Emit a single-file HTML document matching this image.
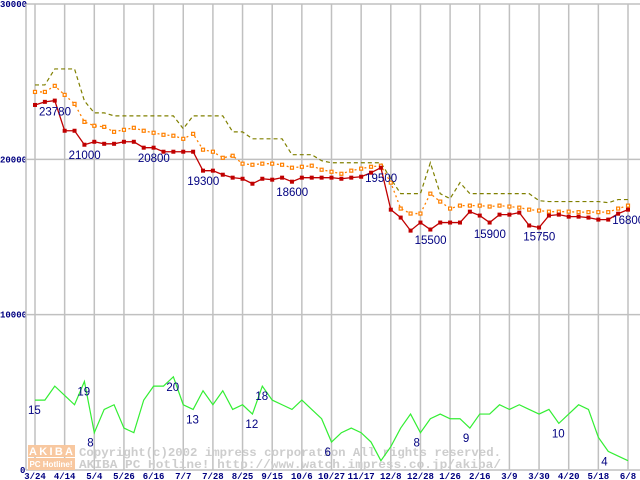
<!DOCTYPE html>
<html><head><meta charset="utf-8"><style>
body{margin:0;background:#fff;}
svg{display:block;font-family:"Liberation Mono",monospace;}
</style></head><body>
<svg id="c" width="640" height="480" xmlns="http://www.w3.org/2000/svg">
<g id="wm">
<rect x="28" y="445" width="47" height="12" fill="#f8c8a0"/>
<rect x="28" y="458" width="47" height="12" fill="#f8c8a0"/>
<text x="51" y="455" font-size="11" fill="#fff" text-anchor="middle" font-weight="bold" font-family="Liberation Sans,sans-serif" textLength="44">AKIBA</text>
<text x="51" y="467" font-size="8" fill="#fff" text-anchor="middle" font-weight="bold" font-family="Liberation Sans,sans-serif">PC Hotline!</text>
<text x="79" y="456" font-size="12" fill="#cdcdcd" font-weight="bold" textLength="422" lengthAdjust="spacingAndGlyphs">Copyright(c)2002 impress corporation All rights reserved.</text>
<text x="79" y="468" font-size="12" fill="#cdcdcd" font-weight="bold" textLength="422" lengthAdjust="spacingAndGlyphs">AKIBA PC Hotline!  http://www.watch.impress.co.jp/akiba/</text>
</g>
</svg>
<script>
const xLabels=["3/24","4/14","5/4","5/26","6/16","7/7","7/28","8/25","9/15","10/6","10/27","11/17","12/8","12/28","1/26","2/16","3/9","3/30","4/20","5/18","6/8"];
const yTicks=[0,10000,20000,30000];
const minPrice=[23500,23700,23780,21840,21840,20940,21130,21000,21000,21130,21130,20750,20750,20490,20490,20490,20490,19270,19270,19010,18820,18750,18430,18750,18690,18820,18560,18820,18820,18820,18820,18750,18820,18880,19140,19460,16760,16250,15410,15930,15480,15930,15930,15930,16630,16380,15930,16440,16440,16570,15740,15610,16380,16440,16310,16310,16250,16120,16120,16500,16760];
const avgPrice=[24340,24340,24730,24150,23570,22410,22160,22090,21770,21900,22030,21840,21710,21580,21520,21320,21640,20620,20490,20100,20230,19720,19650,19720,19720,19650,19460,19520,19590,19330,19200,19070,19270,19400,19520,19590,18500,16830,16510,16510,17790,17280,16830,17020,17020,17020,16960,17020,16960,16890,16760,16700,16630,16630,16630,16600,16600,16600,16600,16830,17020];
const maxPrice=[24790,24790,25820,25820,25820,23760,22990,22990,22800,22800,22800,22800,22800,22800,22800,21970,22800,22800,22800,22800,21770,21770,21320,21320,21320,21320,20300,20300,20300,19910,19780,19780,19780,19780,19780,19780,18750,17790,17790,17790,19780,17790,17470,18500,17790,17790,17790,17790,17790,17790,17790,17340,17280,17280,17280,17280,17280,17280,17210,17410,17410];
const counts=[15,15,18,16,14,19,8,13,14,9,8,15,18,18,20,14,13,17,14,17,13,14,12,18,15,14,13,15,13,11,6,8,9,8,6,2,5,9,12,8,11,12,11,11,9,12,12,14,13,14,13,12,13,10,12,14,13,7,4,3,2];
const priceLabels=[[0,"23780"],[3,"21000"],[10,"20800"],[15,"19300"],[24,"18600"],[33,"19500"],[38,"15500"],[44,"15900"],[49,"15750"],[58,"16800"]];
const countLabels=[[0,"15"],[5,"19"],[6,"8"],[14,"20"],[16,"13"],[22,"12"],[23,"18"],[30,"6"],[39,"8"],[44,"9"],[53,"10"],[58,"4"]];
const NS="http://www.w3.org/2000/svg";
const svg=document.getElementById('c');
const X0=35,X1=628,PL=26,Y0=470,Y1=4;
const n=minPrice.length;
function xs(i){return X0+(X1-X0)*i/(n-1);}
function yp(v){return Y0-(Y0-Y1)*v/30000;}
function yc(v){return Y0-(Y0-Y1)*v/100;}
function mk(t,a){const e=document.createElementNS(NS,t);for(const k in a)e.setAttribute(k,a[k]);return e;}
const grid=mk('g',{});


svg.insertBefore(grid,svg.firstChild);
yTicks.forEach(v=>{
 const l=mk('line',{x1:PL,x2:640,y1:yp(v),y2:yp(v),stroke:'#c0c0c0','stroke-width':1.5});
 
 
 grid.appendChild(l);
 const t=mk('text',{x:v===0?20:0,y:yp(v)+3,'font-size':9,'font-weight':'bold',fill:'#000080'});
 
 
 t.textContent=v;grid.appendChild(t);
});
const ax=mk('line',{x1:PL,x2:PL,y1:Y1,y2:Y0,stroke:'#c0c0c0','stroke-width':1.5});


grid.appendChild(ax);
xLabels.forEach((s,k)=>{
 const x=X0+(X1-X0)*k/(xLabels.length-1);
 const l=mk('line',{x1:x,x2:x,y1:Y1,y2:Y0,stroke:'#c0c0c0','stroke-width':1.5});
 
 
 grid.appendChild(l);
 const t=mk('text',{x:x,y:479,'font-size':9,'font-weight':'bold',fill:'#000080','text-anchor':'middle'});
 
 
 t.textContent=s;svg.appendChild(t);
});
function line(arr,f,col,dash,name,w){
 const p=mk('polyline',{points:arr.map((v,i)=>xs(i)+','+f(v)).join(' '),fill:'none',stroke:col,'stroke-width':w||1.3});
 if(dash)p.setAttribute('stroke-dasharray',dash);
 
 
 svg.appendChild(p);
}
line(counts,yc,'#33ee33',null,'count-line',1.2);
line(maxPrice,yp,'#808000','4 3','max-price-line',1.2);
line(avgPrice,yp,'#ff8000','2 3','avg-price-line',1.3);
avgPrice.forEach((v,i)=>{
 const r=mk('rect',{x:xs(i)-1.5,y:yp(v)-1.5,width:3,height:3,fill:'#fff',stroke:'#ff8000','stroke-width':1.2});
 
 
 svg.appendChild(r);
});
line(minPrice,yp,'#c00000',null,'min-price-line',1.3);
minPrice.forEach((v,i)=>{
 const r=mk('rect',{x:xs(i)-2,y:yp(v)-2,width:4,height:4,fill:'#c00000'});
 
 
 svg.appendChild(r);
});
priceLabels.forEach(([i,s])=>{
 const t=mk('text',{x:xs(i)+4,y:yp(+s)+15,'font-size':11.5,fill:'#000080','font-family':'Liberation Sans,sans-serif'});
 
 
 t.textContent=s;svg.appendChild(t);
});
countLabels.forEach(([i,s])=>{
 const t=mk('text',{x:xs(i)-7,y:yc(counts[i])+14,'font-size':11.5,fill:'#000080','font-family':'Liberation Sans,sans-serif'});
 
 
 t.textContent=s;svg.appendChild(t);
});
</script>
</body></html>
